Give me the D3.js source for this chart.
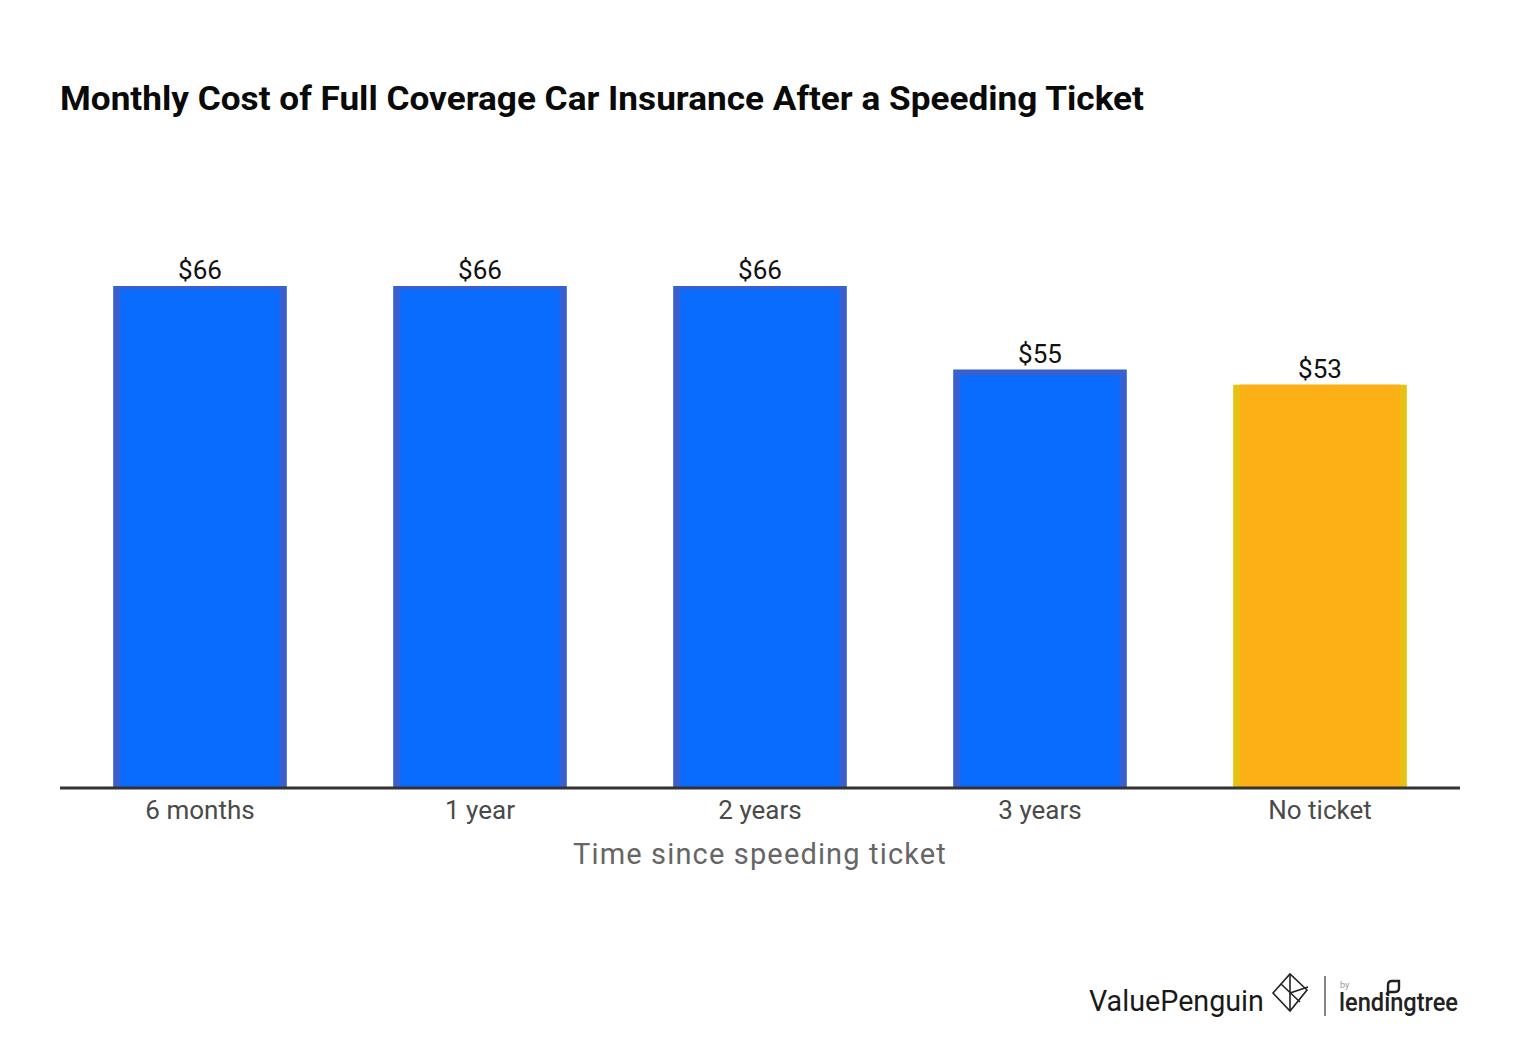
<!DOCTYPE html>
<html><head><meta charset="utf-8">
<script src="https://cdn.jsdelivr.net/npm/d3@7/dist/d3.min.js"></script>
<style>html,body{margin:0;padding:0;background:#fff}svg{display:block}text{font-family:Roboto,sans-serif}</style>
</head><body><div id="c"></div>
<script>
const categories = ["6 months","1 year","2 years","3 years","No ticket"];
const values = [66,66,66,55,53];
const barColors = ["#0a6cff","#0a6cff","#0a6cff","#0a6cff","#fdb016"];
const edgeColors = ["#3a5fcf","#3a5fcf","#3a5fcf","#3a5fcf","#e8c010"];
const title = "Monthly Cost of Full Coverage Car Insurance After a Speeding Ticket";
const xTitle = "Time since speeding ticket";
const W=1520,H=1050;
const svg=d3.select("#c").append("svg").attr("width",W).attr("height",H);
const x=d3.scaleBand().domain(categories).range([60,1460]).paddingInner(0.38).paddingOuter(0.19);
const y=d3.scaleLinear().domain([0,66]).range([787,286]);
svg.append("text").attr("x",60).attr("y",110).attr("font-size",33).attr("font-weight",700).attr("fill","#0a0a0a").attr("textLength",1084).attr("lengthAdjust","spacingAndGlyphs").text(title);
const bars=svg.append("g").selectAll("g").data(categories).join("g");
bars.append("rect").attr("x",d=>x(d)).attr("y",(d,i)=>y(values[i])).attr("width",x.bandwidth()).attr("height",(d,i)=>y(0)-y(values[i])).attr("fill",(d,i)=>edgeColors[i]);
bars.append("rect").attr("x",d=>x(d)+7).attr("y",(d,i)=>y(values[i])+(i<4?(i<3?3:6):0)).attr("width",x.bandwidth()-14).attr("height",(d,i)=>y(0)-y(values[i])-(i<4?(i<3?3:6):0)).attr("fill",(d,i)=>barColors[i]);
bars.append("text").attr("x",d=>x(d)+x.bandwidth()/2).attr("y",(d,i)=>y(values[i])-7).attr("text-anchor","middle").attr("font-size",26).attr("fill","#111").text((d,i)=>"$"+values[i]);
const ax=svg.append("g").attr("transform","translate(0,788)").call(d3.axisBottom(x).tickSize(0).tickPadding(13));
ax.select(".domain").attr("stroke","#333").attr("stroke-width",3).attr("d","M60,0H1460");
ax.selectAll("text").attr("font-size",26).attr("fill","#4a4a4a").attr("font-family","Roboto,sans-serif");
svg.append("text").attr("x",760).attr("y",864).attr("text-anchor","middle").attr("font-size",29).attr("letter-spacing",1.15).attr("fill","#666").text(xTitle);
// brand marks
const brand=svg.append("g");
brand.append("text").attr("x",1089).attr("y",1011).attr("font-size",28.7).attr("fill","#1a1a1a").text("ValuePenguin");
const mark=brand.append("g").attr("fill","none").attr("stroke","#222").attr("stroke-width",1.6);
mark.append("path").attr("d","M1273 993L1290 974L1307 990L1290 1011Z");
mark.append("path").attr("d","M1281 984L1300 1002M1290 974L1290 1011M1290 993L1308 987");
brand.append("line").attr("x1",1325).attr("x2",1325).attr("y1",976).attr("y2",1016).attr("stroke","#333").attr("stroke-width",1.2);
brand.append("text").attr("x",1340).attr("y",988).attr("font-size",9).attr("fill","#999").text("by");
brand.append("text").attr("x",1339).attr("y",1011).attr("font-size",26).attr("font-weight",500).attr("fill","#222").attr("textLength",119).attr("lengthAdjust","spacingAndGlyphs").text("lendingtree");
brand.append("path").attr("d","M1388 996V985Q1388 981 1392 981H1399V988Q1399 992 1395 992H1388").attr("fill","none").attr("stroke","#222").attr("stroke-width",2.4);
</script></body></html>
